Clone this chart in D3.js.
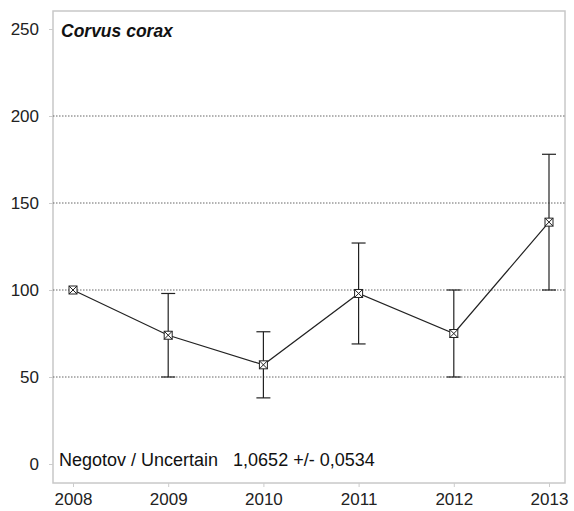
<!DOCTYPE html>
<html><head><meta charset="utf-8">
<script src="https://cdn.jsdelivr.net/npm/d3@7"></script>
<style>body{margin:0;background:#fff;} svg{display:block;}</style>
</head><body>
<script>
const years = [2008, 2009, 2010, 2011, 2012, 2013];
const values = [100, 74, 57, 98, 75, 139];
const lower = [100, 50, 38, 69, 50, 100];
const upper = [100, 98, 76, 127, 100, 178];
const yTicks = [0, 50, 100, 150, 200, 250];
const gridVals = [50, 100, 150, 200];
const title = "Corvus corax";
const note = "Negotov / Uncertain   1,0652 +/- 0,0534";

const W = 574, H = 511;
const svg = d3.select("body").append("svg").attr("width", W).attr("height", H);
const box = {l: 53, t: 11, r: 565, b: 483};
const x = d3.scalePoint().domain(years).range([73, 549]);
const y = d3.scaleLinear().domain([0, 250]).range([464, 29]);
const font = "'Liberation Sans', Arial, sans-serif";

svg.append("rect").attr("x", box.l).attr("y", box.t).attr("width", box.r - box.l).attr("height", box.b - box.t)
  .attr("fill", "none").attr("stroke", "#c8c8c8").attr("stroke-width", 1.5);

svg.selectAll(".grid").data(gridVals).join("line")
  .attr("x1", box.l).attr("x2", box.r).attr("y1", d => y(d)).attr("y2", d => y(d))
  .attr("stroke", "#666").attr("stroke-width", 1).attr("stroke-dasharray", "1.5,1.5");

// y axis labels
const ya = svg.append("g").attr("transform", `translate(${box.l},0)`)
  .call(d3.axisLeft(y).tickValues(yTicks).tickSize(4).tickPadding(10));
ya.select(".domain").remove();
ya.selectAll("line").attr("stroke", "#ccc");
ya.selectAll("text").attr("font-family", font).attr("font-size", 17).attr("fill", "#222");

// x axis
const xa = svg.append("g").attr("transform", `translate(0,${box.b})`)
  .call(d3.axisBottom(x).tickSize(4).tickPadding(6));
xa.select(".domain").remove();
xa.selectAll("line").attr("stroke", "#ccc");
xa.selectAll("text").attr("font-family", font).attr("font-size", 17).attr("fill", "#222");

const data = years.map((yr, i) => ({yr, v: values[i], lo: lower[i], hi: upper[i]}));

// error bars
const eb = svg.append("g").attr("stroke", "#222").attr("stroke-width", 1.2);
data.filter(d => d.hi !== d.lo).forEach(d => {
  eb.append("line").attr("x1", x(d.yr)).attr("x2", x(d.yr)).attr("y1", y(d.lo)).attr("y2", y(d.hi));
  eb.append("line").attr("x1", x(d.yr) - 7).attr("x2", x(d.yr) + 7).attr("y1", y(d.lo)).attr("y2", y(d.lo));
  eb.append("line").attr("x1", x(d.yr) - 7).attr("x2", x(d.yr) + 7).attr("y1", y(d.hi)).attr("y2", y(d.hi));
});

svg.append("path").datum(data)
  .attr("d", d3.line().x(d => x(d.yr)).y(d => y(d.v)))
  .attr("fill", "none").attr("stroke", "#222").attr("stroke-width", 1.2);

// markers: square with X
const mk = svg.append("g").attr("stroke", "#222").attr("stroke-width", 1);
data.forEach(d => {
  const cx = x(d.yr), cy = y(d.v), s = 4;
  mk.append("rect").attr("x", cx - s).attr("y", cy - s).attr("width", 2 * s).attr("height", 2 * s).attr("fill", "#fff");
  mk.append("line").attr("x1", cx - s).attr("y1", cy - s).attr("x2", cx + s).attr("y2", cy + s);
  mk.append("line").attr("x1", cx - s).attr("y1", cy + s).attr("x2", cx + s).attr("y2", cy - s);
});

svg.append("text").attr("x", 61).attr("y", 37).attr("font-family", font).attr("font-size", 17.5)
  .attr("font-weight", "bold").attr("font-style", "italic").attr("fill", "#111").text(title);

svg.append("text").attr("x", 59).attr("y", 466).attr("font-family", font).attr("font-size", 18)
  .attr("fill", "#111").attr("xml:space", "preserve").style("white-space", "pre").text(note);
</script>
</body></html>
